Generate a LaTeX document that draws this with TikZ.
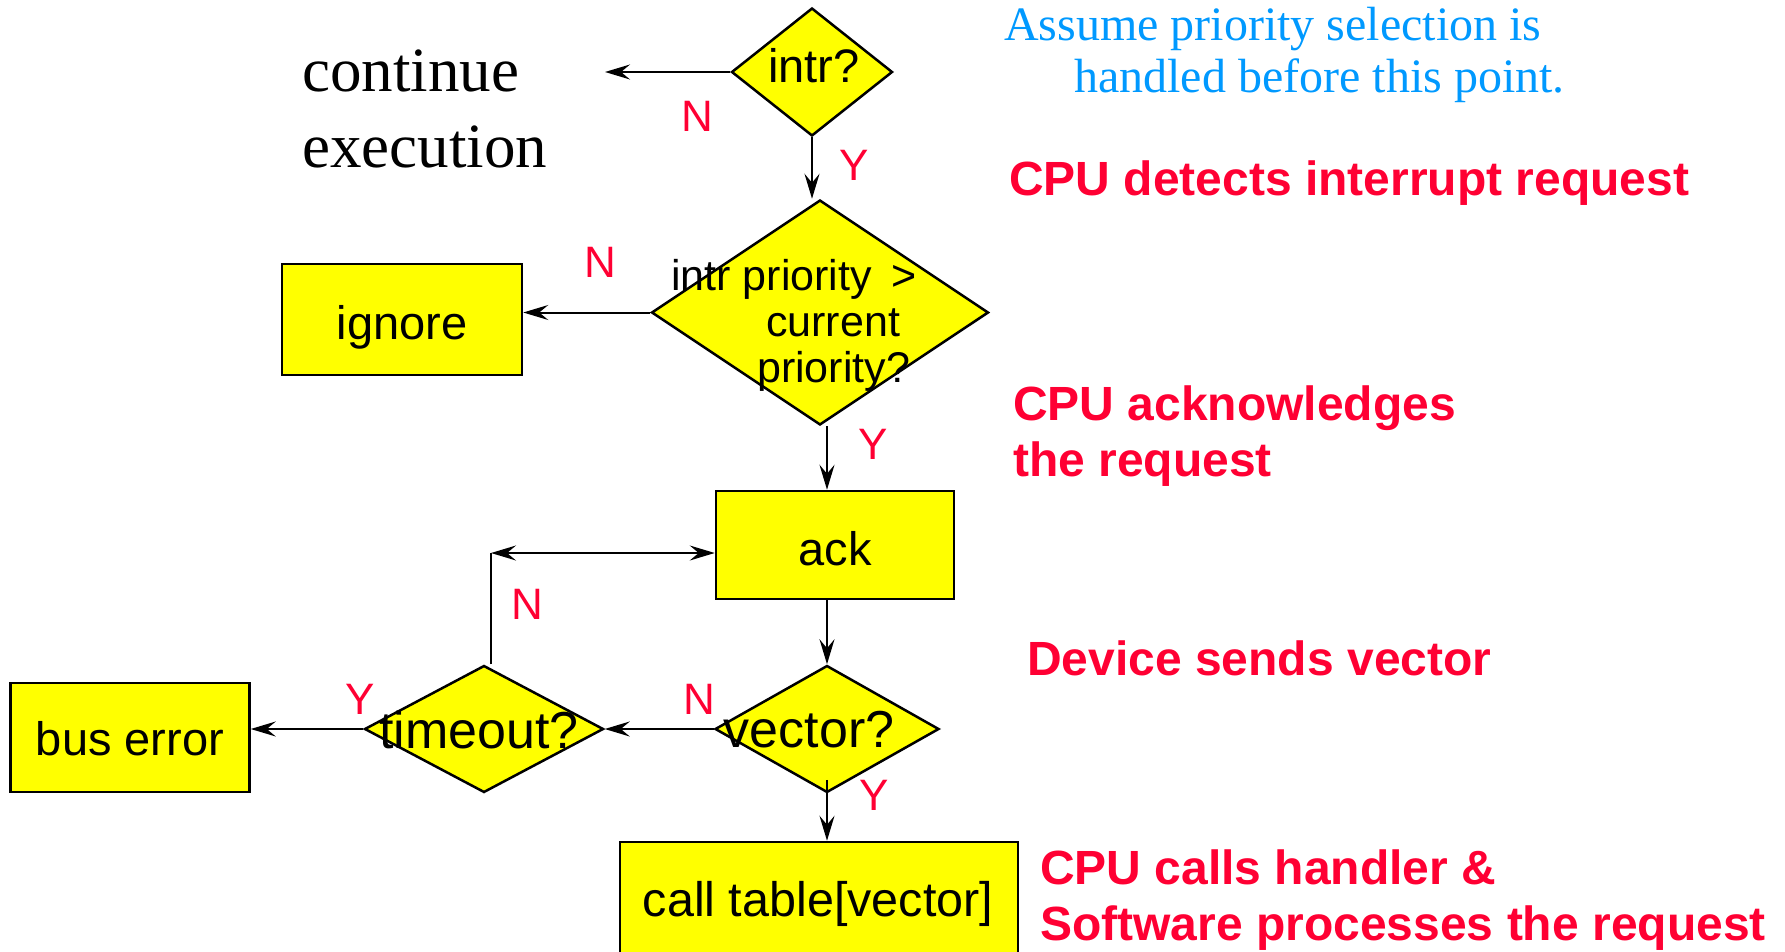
\documentclass[tikz,border=0pt]{standalone}
\usepackage{fontspec}
\setmainfont{Liberation Sans}
\newfontfamily\timesfont{Liberation Serif}
\usetikzlibrary{shapes.geometric,arrows.meta,calc}
\definecolor{boxyellow}{RGB}{255,255,0}
\definecolor{notered}{RGB}{255,0,51}
\definecolor{noteblue}{RGB}{0,153,255}

\begin{document}
\begin{tikzpicture}[x=1pt,y=-1pt,
  box/.style={draw, line width=2.5pt, fill=boxyellow, rectangle, inner sep=0pt},
  dia/.style={draw, line width=2.5pt, fill=boxyellow, diamond, inner sep=0pt},
  lbl/.style={font=\fontsize{47}{47}\selectfont, anchor=base, inner sep=0pt},
  yn/.style={text=notered, font=\fontsize{44}{44}\selectfont, anchor=base, inner sep=0pt},
  note/.style={text=notered, font=\bfseries\fontsize{48}{56}\selectfont, anchor=base west, align=left, inner sep=0pt},
  aside/.style={font=\timesfont\fontsize{48}{52}\selectfont, text=noteblue, anchor=base west, inner sep=0pt},
  tip/.tip={Stealth[length=25pt,width=15pt,inset=9pt]},
  arr/.style={line width=2pt, -tip},
  plain/.style={line width=2pt}]

\useasboundingbox (0,0) rectangle (1785,952);

% decision and action shapes
\node[dia, minimum width=161pt, minimum height=128pt] (intr) at (812,72) {};
\node[dia, minimum width=337pt, minimum height=225pt] (prio) at (820,312.5) {};
\node[box, minimum width=240pt, minimum height=111pt] (ign) at (402,319.5) {};
\node[box, minimum width=238pt, minimum height=108pt] (ack) at (835,545) {};
\node[dia, minimum width=224pt, minimum height=127pt] (vec) at (827,729) {};
\node[dia, minimum width=239pt, minimum height=127pt] (to) at (484,729) {};
\node[box, minimum width=239pt, minimum height=109pt] (bus) at (130,737.5) {};
\node[box, minimum width=398pt, minimum height=114pt] (call) at (819,899) {};

% texts of the shapes (multi-line nodes are anchored on their last baseline)
\node[lbl] (intrt) at (814,83) {intr?};
\node[lbl, anchor=base west, align=left, font=\fontsize{43}{46}\selectfont] (priot) at (671,382)
  {intr priority\hspace{8pt} >\\\hspace*{95pt}current\\\hspace*{86pt}priority?};
\node[lbl] (ignt) at (402,339) {ignore};
\node[lbl] (ackt) at (835,565) {ack};
\node[lbl, font=\fontsize{52}{52}\selectfont] (vect) at (809,747) {vector?};
\node[lbl, font=\fontsize{52}{52}\selectfont] (tot) at (479,748) {timeout?};
\node[lbl] (bust) at (130,755) {bus error};
\node[lbl, font=\fontsize{48.5}{48.5}\selectfont] (callt) at (818,916) {call table[vector]};

% connectors
\coordinate (cont) at (605,72);
\coordinate (loop) at (491,553);
\draw[arr] (intr.west) -- (cont);
\draw[arr] (intr.south) -- (intr.south |- prio.north);
\draw[arr] (prio.west) -- (prio.west -| ign.east);
\draw[arr] (prio.south -| vec.north) -- (vec.north |- ack.north);
\draw[arr] (ack.south -| vec.north) -- (vec.north);
\draw[arr] (vec.west) -- (to.east);
\draw[arr] (to.west) -- (to.west -| bus.east);
\draw[plain] (loop |- to.north) -- (loop);
\draw[plain, tip-tip] (loop) -- (loop -| ack.west);
\draw[arr] ($(vec.south)+(0,-14)$) -- (vec.south |- call.north);

% branch labels
\node[yn] (n1) at (697,132) {N};
\node[yn] (y1) at (854,181) {Y};
\node[yn] (n2) at (600,277) {N};
\node[yn] (y2) at (873,459) {Y};
\node[yn] (n3) at (527,619) {N};
\node[yn] (y3) at (360,714) {Y};
\node[yn] (n4) at (699,714) {N};
\node[yn] (y4) at (874,810) {Y};

% side notes
\node[font=\timesfont\fontsize{63}{77}\selectfont, anchor=base west, align=left, inner sep=0pt] (cexec) at (302,168)
  {continue\\execution};
\node[aside] (as1) at (1004,40.5) {Assume priority selection is};
\node[aside] (as2) at (1074,92.5) {handled before this point.};
\node[note] (s1) at (1009,196) {CPU detects interrupt request};
\node[note] (s2) at (1013,476) {CPU acknowledges\\the request};
\node[note] (s3) at (1027,675) {Device sends vector};
\node[note] (s4) at (1040,940) {CPU calls handler \&\\Software processes the request};
\end{tikzpicture}
\end{document}
